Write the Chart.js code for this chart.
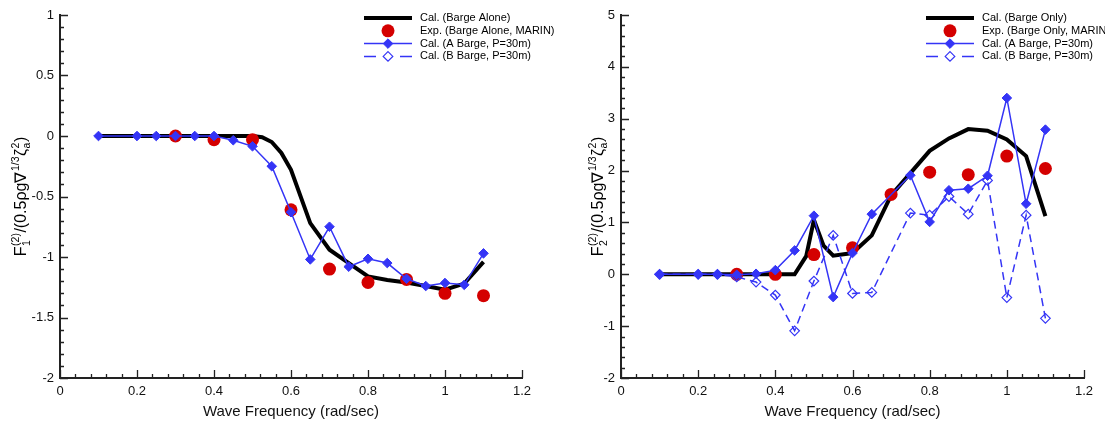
<!DOCTYPE html>
<html>
<head>
<meta charset="utf-8">
<script src="https://cdn.jsdelivr.net/npm/chart.js@4.4.0/dist/chart.umd.min.js"></script>
<style>
  body { margin: 0; background: #fff; width: 1105px; height: 423px; overflow: hidden; position: relative; }
  canvas { position: absolute; top: 0; }
  #chart1 { left: 0; }
  #chart2 { left: 560px; }
</style>
</head>
<body>
<canvas id="chart1" width="560" height="423"></canvas>
<canvas id="chart2" width="545" height="423"></canvas>
<script>
// tick labels
const xTicks = [0, 0.2, 0.4, 0.6, 0.8, 1, 1.2];
const y1Ticks = [1, 0.5, 0, -0.5, -1, -1.5, -2];
const y2Ticks = [5, 4, 3, 2, 1, 0, -1, -2];

// F1 panel
const f1CalX = [0.1, 0.2, 0.3, 0.4, 0.45, 0.5, 0.525, 0.55, 0.575, 0.6, 0.65, 0.7, 0.75, 0.8, 0.85, 0.9, 0.95, 1.0, 1.05, 1.1];
const f1CalY = [0, 0, 0, 0, 0, 0, -0.01, -0.05, -0.14, -0.28, -0.72, -0.94, -1.05, -1.16, -1.19, -1.21, -1.24, -1.27, -1.22, -1.04];
const f1ExpX = [0.3, 0.4, 0.5, 0.6, 0.7, 0.8, 0.9, 1.0, 1.1];
const f1ExpY = [0, -0.03, -0.03, -0.61, -1.1, -1.21, -1.185, -1.3, -1.32];
const f1AX = [0.1, 0.2, 0.25, 0.3, 0.35, 0.4, 0.45, 0.5, 0.55, 0.6, 0.65, 0.7, 0.75, 0.8, 0.85, 0.9, 0.95, 1.0, 1.05, 1.1];
const f1AY = [0, 0, 0, 0, 0, 0, -0.035, -0.085, -0.25, -0.63, -1.02, -0.75, -1.08, -1.015, -1.05, -1.18, -1.24, -1.215, -1.23, -0.97];

// F2 panel
const f2CalX = [0.1, 0.2, 0.3, 0.4, 0.45, 0.48, 0.5, 0.525, 0.55, 0.6, 0.65, 0.7, 0.75, 0.8, 0.85, 0.9, 0.95, 1.0, 1.05, 1.1];
const f2CalY = [0, 0, 0, 0, 0, 0.35, 1.05, 0.55, 0.36, 0.41, 0.75, 1.52, 1.95, 2.38, 2.62, 2.8, 2.77, 2.6, 2.28, 1.12];
const f2ExpX = [0.3, 0.4, 0.5, 0.6, 0.7, 0.8, 0.9, 1.0, 1.1];
const f2ExpY = [0, 0, 0.38, 0.51, 1.54, 1.97, 1.92, 2.28, 2.04];
const f2AX = [0.1, 0.2, 0.25, 0.3, 0.35, 0.4, 0.45, 0.5, 0.55, 0.6, 0.65, 0.75, 0.8, 0.85, 0.9, 0.95, 1.0, 1.05, 1.1];
const f2AY = [0, 0, 0, -0.01, 0.01, 0.08, 0.46, 1.13, -0.44, 0.41, 1.16, 1.91, 1.01, 1.62, 1.65, 1.9, 3.4, 1.36, 2.79];
const f2BX = [0.1, 0.2, 0.25, 0.3, 0.35, 0.4, 0.45, 0.5, 0.55, 0.6, 0.65, 0.75, 0.8, 0.85, 0.9, 0.95, 1.0, 1.05, 1.1];
const f2BY = [0, 0, 0, -0.05, -0.15, -0.4, -1.09, -0.13, 0.75, -0.37, -0.35, 1.18, 1.14, 1.5, 1.16, 1.81, -0.45, 1.14, -0.85];

const BLUE = '#3434f6';
const RED = '#d40000';
const FONT = '"Liberation Sans", Arial, sans-serif';

const pts = (xs, ys) => xs.map((x, i) => ({ x: x, y: ys[i] }));

function datasets(cal, exp, a, b, calLabel, expLabel) {
  return [
    { label: 'Cal. (A Barge, P=30m)', data: a, borderColor: BLUE, borderWidth: 1.5,
      pointStyle: 'rectRot', pointRadius: 4.8, pointBackgroundColor: BLUE, pointBorderColor: BLUE,
      pointBorderWidth: 1, order: 0 },
    { label: 'Cal. (B Barge, P=30m)', data: b, borderColor: BLUE, borderWidth: 1.5, borderDash: [8, 5],
      pointStyle: 'rectRot', pointRadius: 4.8, pointBackgroundColor: 'rgba(0,0,0,0)', pointBorderColor: BLUE,
      pointBorderWidth: 1.2, order: 1 },
    { label: expLabel, data: exp, showLine: false, pointRadius: 6.5,
      pointBackgroundColor: RED, pointBorderColor: RED, pointBorderWidth: 0, order: 2 },
    { label: calLabel, data: cal, borderColor: '#000', borderWidth: 4, pointRadius: 0, order: 3 }
  ];
}

// inward major/minor ticks
const innerTicks = {
  id: 'innerTicks',
  afterDraw(chart, args, opts) {
    const { ctx, chartArea: a, scales: { x, y } } = chart;
    ctx.save();
    ctx.strokeStyle = '#222';
    ctx.lineWidth = 1.3;
    ctx.beginPath();
    let n = Math.round((x.max - x.min) / opts.xMinor);
    for (let i = 0; i <= n; i++) {
      const v = x.min + i * opts.xMinor;
      const px = Math.round(x.getPixelForValue(v)) + 0.5;
      const major = Math.abs(v / opts.xMajor - Math.round(v / opts.xMajor)) < 1e-6;
      ctx.moveTo(px, a.bottom);
      ctx.lineTo(px, a.bottom - (major ? 8 : 4));
    }
    n = Math.round((y.max - y.min) / opts.yMinor);
    for (let i = 0; i <= n; i++) {
      const v = y.min + i * opts.yMinor;
      const py = Math.round(y.getPixelForValue(v)) + 0.5;
      const major = Math.abs(v / opts.yMajor - Math.round(v / opts.yMajor)) < 1e-6;
      ctx.moveTo(a.left, py);
      ctx.lineTo(a.left + (major ? 8 : 4), py);
    }
    ctx.stroke();
    ctx.restore();
  }
};

// legend box in the upper right
const boxLegend = {
  id: 'boxLegend',
  afterDraw(chart, args, opts) {
    const ctx = chart.ctx;
    ctx.save();
    ctx.font = '11px ' + FONT;
    ctx.textBaseline = 'middle';
    opts.rows.forEach((di, i) => {
      const ds = chart.data.datasets[di];
      const y = opts.top + i * opts.gap;
      const mid = (opts.x0 + opts.x1) / 2;
      if (ds.showLine !== false) {
        ctx.strokeStyle = ds.borderColor;
        ctx.lineWidth = ds.borderWidth;
        ctx.beginPath();
        if (ds.borderDash) {
          ctx.moveTo(opts.x0, y); ctx.lineTo(opts.x0 + 12, y);
          ctx.moveTo(opts.x1 - 12, y); ctx.lineTo(opts.x1, y);
        } else {
          ctx.moveTo(opts.x0, y); ctx.lineTo(opts.x1, y);
        }
        ctx.stroke();
      }
      if (ds.pointRadius > 0) {
        const r = ds.pointRadius;
        ctx.beginPath();
        if (ds.pointStyle === 'rectRot') {
          ctx.moveTo(mid, y - r); ctx.lineTo(mid + r, y); ctx.lineTo(mid, y + r); ctx.lineTo(mid - r, y); ctx.closePath();
        } else {
          ctx.arc(mid, y, r, 0, Math.PI * 2);
        }
        ctx.fillStyle = ds.pointBackgroundColor === 'rgba(0,0,0,0)' ? '#fff' : ds.pointBackgroundColor;
        ctx.fill();
        if (ds.pointBorderWidth > 0) {
          ctx.strokeStyle = ds.pointBorderColor;
          ctx.lineWidth = ds.pointBorderWidth;
          ctx.stroke();
        }
      }
      ctx.fillStyle = '#000';
      ctx.fillText(ds.label, opts.textX, y);
    });
    ctx.restore();
  }
};

// rotated y title with sub/superscripts
const yTitle = {
  id: 'yTitle',
  afterDraw(chart, args, opts) {
    const ctx = chart.ctx;
    const a = chart.chartArea;
    const big = '16px ' + FONT, small = '10.5px ' + FONT;
    const parts = [
      { t: 'F' }, { sup: '(2)', sub: opts.sub }, { t: '/(0.5\u03C1g\u2207' }, { sup: '1/3' },
      { t: '\u03B6' }, { sup: '2', sub: 'a' }, { t: ')' }
    ];
    ctx.save();
    const widths = parts.map(p => {
      if (p.t) { ctx.font = big; return ctx.measureText(p.t).width; }
      ctx.font = small;
      return Math.max(ctx.measureText(p.sup || '').width, ctx.measureText(p.sub || '').width) + 1;
    });
    const total = widths.reduce((s, w) => s + w, 0);
    ctx.translate(opts.x, (a.top + a.bottom) / 2);
    ctx.rotate(-Math.PI / 2);
    ctx.fillStyle = '#000';
    ctx.textBaseline = 'alphabetic';
    let cx = -total / 2;
    parts.forEach((p, i) => {
      if (p.t) {
        ctx.font = big; ctx.fillText(p.t, cx, 0);
      } else {
        ctx.font = small;
        if (p.sup) ctx.fillText(p.sup, cx + 0.5, -7.5);
        if (p.sub) ctx.fillText(p.sub, cx + 0.5, 4);
      }
      cx += widths[i];
    });
    ctx.restore();
  }
};

function makeChart(id, ds, yMin, yMax, yTicks, opt) {
  return new Chart(document.getElementById(id).getContext('2d'), {
    type: 'line',
    data: { datasets: ds },
    plugins: [innerTicks, boxLegend, yTitle],
    options: {
      responsive: false,
      animation: false,
      devicePixelRatio: 1,
      layout: { padding: { top: 15, right: opt.padRight, left: 0, bottom: 0 } },
      elements: { line: { tension: 0 } },
      plugins: {
        legend: { display: false },
        tooltip: { enabled: false },
        innerTicks: { xMinor: 0.04, xMajor: 0.2, yMinor: opt.yMinor, yMajor: opt.yMajor },
        boxLegend: { rows: [3, 2, 0, 1], top: 18, gap: 12.8, x0: opt.legX0, x1: opt.legX0 + 48, textX: opt.legX0 + 56 },
        yTitle: { x: opt.titleX, sub: opt.sub }
      },
      scales: {
        x: {
          type: 'linear', min: 0, max: 1.2,
          afterFit: s => { s.height = 45; },
          afterBuildTicks: s => { s.ticks = xTicks.map(v => ({ value: v })); },
          grid: { display: false, drawTicks: false },
          border: { display: true, color: '#222', width: 2 },
          ticks: { padding: 6, color: '#111', font: { family: FONT, size: 13 }, callback: v => String(v) },
          title: { display: true, text: 'Wave Frequency (rad/sec)', color: '#111',
                   font: { family: FONT, size: 15 }, padding: { top: 0, bottom: 2 } }
        },
        y: {
          type: 'linear', min: yMin, max: yMax,
          afterFit: s => { s.width = opt.yWidth; },
          afterBuildTicks: s => { s.ticks = yTicks.map(v => ({ value: v })); },
          grid: { display: false, drawTicks: false },
          border: { display: true, color: '#222', width: 2 },
          ticks: { padding: 6, color: '#111', font: { family: FONT, size: 13 }, callback: v => String(v) }
        }
      }
    }
  });
}

makeChart('chart1',
  datasets(pts(f1CalX, f1CalY), pts(f1ExpX, f1ExpY), pts(f1AX, f1AY), [],
           'Cal. (Barge Alone)', 'Exp. (Barge Alone, MARIN)'),
  -2, 1, y1Ticks,
  { padRight: 38, yWidth: 60, yMinor: 0.1, yMajor: 0.5, legX0: 364, titleX: 26, sub: '1' });

makeChart('chart2',
  datasets(pts(f2CalX, f2CalY), pts(f2ExpX, f2ExpY), pts(f2AX, f2AY), pts(f2BX, f2BY),
           'Cal. (Barge Only)', 'Exp. (Barge Only, MARIN)'),
  -2, 5, y2Ticks,
  { padRight: 21, yWidth: 61, yMinor: 0.2, yMajor: 1, legX0: 366, titleX: 43, sub: '2' });
</script>
</body>
</html>
